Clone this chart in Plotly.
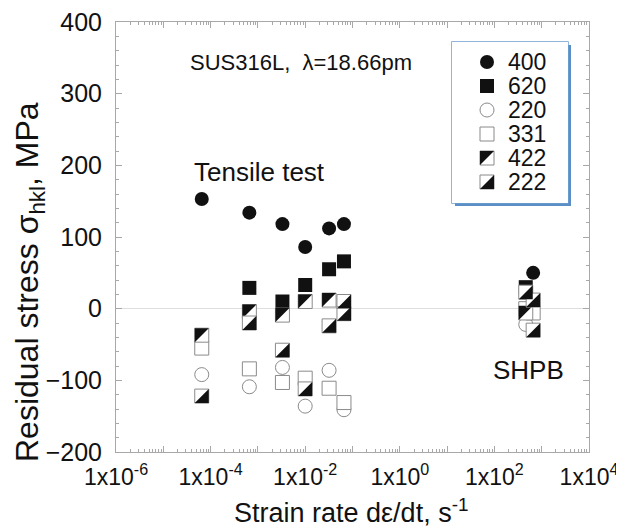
import plotly.graph_objects as go

# ---------------- data ----------------
s400_x = [6.5e-5, 6.6e-4, 3.3e-3, 1.0e-2, 3.2e-2, 6.6e-2, 6.6e2]
s400_y = [153, 134, 118, 86, 112, 118, 50]

s620_x = [6.6e-4, 3.3e-3, 1.0e-2, 3.2e-2, 6.6e-2, 4.6e2]
s620_y = [29, 10, 33, 55, 66, 30]

s220_x = [6.5e-5, 6.6e-4, 3.3e-3, 1.0e-2, 3.2e-2, 6.6e-2, 4.6e2]
s220_y = [-92, -109, -82, -136, -86, -141, -22]

s331_x = [6.5e-5, 6.6e-4, 3.3e-3, 1.0e-2, 3.2e-2, 6.6e-2, 4.6e2, 6.6e2]
s331_y = [-55, -84, -103, -97, -111, -131, 0, -6]

s422_x = [6.5e-5, 6.6e-4, 3.3e-3, 1.0e-2, 3.2e-2, 4.6e2]
s422_y = [-37, -4, -9, 10, 12, -6]

s222_x = [6.5e-5, 6.6e-4, 3.3e-3, 1.0e-2, 3.2e-2, 6.6e-2, 6.6e-2, 4.6e2, 6.6e2, 6.6e2]
s222_y = [-122, -20, -58, -112, -24, 10, -7, 23, 12, -30]

legend_labels = ["400", "620", "220", "331", "422", "222"]
x_tick_exponents = [-6, -5, -4, -3, -2, -1, 0, 1, 2, 3, 4]
y_range = [-200, 400]
x_range_exp = [-6, 4]

# ---------------- layout geometry ----------------
# the page body has an 8px margin, so the figure starts at (8, 8) of the window
BODY = 8
W, H = 624 - BODY, 531 - BODY
X0, Y0 = 116, 22          # plot-area top-left in window pixels
PW, PH = 473, 430         # plot-area size
ML, MT = X0 - BODY, Y0 - BODY
MR, MB = W - ML - PW, H - MT - PH
px_per_dec = PW / (x_range_exp[1] - x_range_exp[0])
px_per_unit = PH / (y_range[1] - y_range[0])


def px_x(px):
    return (px - X0) / PW


def px_y(py):
    return (Y0 + PH - py) / PH


S = 14                    # marker size (px)
TRI = S / 0.9             # plotly right-triangle size whose legs equal S
OFF = S / 6.0             # centroid offset of half-square triangle (px)

BLACK = "#111111"
GREY = "#8a8a8a"
FONT = "Liberation Sans, Arial, sans-serif"

fig = go.Figure()


def solid(xs, ys, symbol):
    return go.Scatter(x=xs, y=ys, mode="markers", hoverinfo="skip",
                      marker=dict(symbol=symbol, size=S, color=BLACK,
                                  line=dict(width=0)))


def hollow(xs, ys, symbol):
    return go.Scatter(x=xs, y=ys, mode="markers", hoverinfo="skip",
                      marker=dict(symbol=symbol, size=S, color="white",
                                  line=dict(width=1, color=GREY)))


def half(xs, ys, corner, xa="x", ya="y", linear=False):
    sq = go.Scatter(x=xs, y=ys, mode="markers", hoverinfo="skip", xaxis=xa, yaxis=ya,
                    marker=dict(symbol="square", size=S, color="white",
                                line=dict(width=1, color=GREY)))
    sgn = -1 if corner == "nw" else 1
    if linear:
        tx = [v + sgn * OFF for v in xs]
        ty = [v - sgn * OFF for v in ys]
    else:
        tx = [v * 10 ** (sgn * OFF / px_per_dec) for v in xs]
        ty = [v - sgn * OFF / px_per_unit for v in ys]
    tr = go.Scatter(x=tx, y=ty, mode="markers", hoverinfo="skip", xaxis=xa, yaxis=ya,
                    marker=dict(symbol="triangle-" + corner, size=TRI, color=BLACK,
                                line=dict(width=0)))
    return [sq, tr]


fig.add_trace(solid(s400_x, s400_y, "circle"))
fig.add_trace(solid(s620_x, s620_y, "square"))
fig.add_trace(hollow(s220_x, s220_y, "circle"))
fig.add_trace(hollow(s331_x, s331_y, "square"))
for t in half(s422_x, s422_y, "nw"):
    fig.add_trace(t)
for t in half(s222_x, s222_y, "se"):
    fig.add_trace(t)

# ---------------- custom legend (separate pixel-unit axes) ----------------
LX0, LX1, LY0, LY1 = 452, 568, 42, 203  # window px of the box
lw, lh = LX1 - LX0, LY1 - LY0
lx_dom = [px_x(LX0), px_x(LX1)]
ly_dom = [px_y(LY1), px_y(LY0)]
row_off = [20, 44, 68, 92, 116, 140]
rows_y = [lh - r for r in row_off]
mx = 35

fig.add_trace(go.Scatter(x=[mx], y=[rows_y[0]], mode="markers", xaxis="x2", yaxis="y2",
                         hoverinfo="skip", marker=dict(symbol="circle", size=S, color=BLACK)))
fig.add_trace(go.Scatter(x=[mx], y=[rows_y[1]], mode="markers", xaxis="x2", yaxis="y2",
                         hoverinfo="skip", marker=dict(symbol="square", size=S, color=BLACK)))
fig.add_trace(go.Scatter(x=[mx], y=[rows_y[2]], mode="markers", xaxis="x2", yaxis="y2",
                         hoverinfo="skip", marker=dict(symbol="circle", size=S, color="white",
                                                       line=dict(width=1, color=GREY))))
fig.add_trace(go.Scatter(x=[mx], y=[rows_y[3]], mode="markers", xaxis="x2", yaxis="y2",
                         hoverinfo="skip", marker=dict(symbol="square", size=S, color="white",
                                                       line=dict(width=1, color=GREY))))
for t in half([mx], [rows_y[4]], "nw", "x2", "y2", linear=True):
    fig.add_trace(t)
for t in half([mx], [rows_y[5]], "se", "x2", "y2", linear=True):
    fig.add_trace(t)
for lab, yy in zip(legend_labels, rows_y):
    fig.add_annotation(x=55, y=yy, xref="x2", yref="y2", text=lab, showarrow=False,
                       xanchor="left", yanchor="middle", borderpad=0,
                       font=dict(family=FONT, size=23, color=BLACK))

# legend frame with shadow
fig.add_shape(type="rect", xref="paper", yref="paper", layer="below",
              x0=lx_dom[0] + 3 / PW, x1=lx_dom[1] + 3 / PW,
              y0=ly_dom[0] - 3 / PH, y1=ly_dom[1] - 3 / PH,
              fillcolor="#5b8ec4", line=dict(width=0))
fig.add_shape(type="rect", xref="paper", yref="paper", layer="below",
              x0=lx_dom[0], x1=lx_dom[1], y0=ly_dom[0], y1=ly_dom[1],
              fillcolor="white", line=dict(width=1.5, color="#6f9fd0"))

# ---------------- text annotations ----------------
fig.add_annotation(x=px_x(188), y=px_y(62), xref="paper", yref="paper",
                   text="SUS316L,  λ=18.66pm", showarrow=False, xanchor="left",
                   yanchor="middle", font=dict(family=FONT, size=22, color=BLACK))
fig.add_annotation(x=px_x(259), y=px_y(172), xref="paper", yref="paper",
                   text="Tensile test", showarrow=False, xanchor="center",
                   yanchor="middle", font=dict(family=FONT, size=26, color=BLACK))
fig.add_annotation(x=px_x(528), y=px_y(370), xref="paper", yref="paper",
                   text="SHPB", showarrow=False, xanchor="center",
                   yanchor="middle", font=dict(family=FONT, size=26, color=BLACK))
# axis titles
fig.add_annotation(x=px_x(351), y=px_y(511), xref="paper", yref="paper",
                   text="Strain rate dε/dt, s<sup>-1</sup>", showarrow=False,
                   xanchor="center", yanchor="middle",
                   font=dict(family=FONT, size=27, color=BLACK))
fig.add_annotation(x=px_x(29), y=px_y(282), xref="paper", yref="paper",
                   text="Residual stress σ<sub>hkl</sub>, MPa", showarrow=False,
                   textangle=-90, xanchor="center", yanchor="middle",
                   font=dict(family=FONT, size=32, color=BLACK))

# ---------------- axes ----------------
tickvals = [10.0 ** e for e in x_tick_exponents]
ticktext = ["1x10<sup>%d</sup>" % e if e % 2 == 0 else "" for e in x_tick_exponents]
minor_vals = [m * 10.0 ** e for e in x_tick_exponents[:-1] for m in range(2, 10)]
AX = "#a8a8a8"

fig.update_layout(
    width=W, height=H, autosize=False,
    margin=dict(l=ML, r=MR, t=MT, b=MB, autoexpand=False),
    paper_bgcolor="white", plot_bgcolor="white",
    showlegend=False,
    font=dict(family=FONT, size=20, color=BLACK),
    xaxis=dict(type="log", range=x_range_exp, showgrid=False, zeroline=False,
               showline=True, linecolor=AX, linewidth=1, mirror="ticks",
               ticks="inside", ticklen=6, tickcolor=AX, tickwidth=1,
               tickmode="array", tickvals=tickvals, ticktext=ticktext,
               ticklabeloverflow="allow", ticklabelstandoff=4,
               tickfont=dict(family=FONT, size=23, color=BLACK),
               minor=dict(tickmode="array", tickvals=minor_vals, ticks="inside",
                          ticklen=3, tickcolor=AX, tickwidth=1, showgrid=False)),
    yaxis=dict(range=y_range, showgrid=False, zeroline=True, zerolinecolor="#dedede",
               zerolinewidth=1, showline=True, linecolor=AX, linewidth=1, mirror="ticks",
               ticks="inside", ticklen=6, tickcolor=AX, tickwidth=1,
               tickmode="linear", tick0=-200, dtick=100, ticklabelstandoff=8,
               ticklabeloverflow="allow",
               tickfont=dict(family=FONT, size=25, color=BLACK),
               minor=dict(dtick=20, ticks="inside", ticklen=3, tickcolor=AX,
                          tickwidth=1, showgrid=False)),
    xaxis2=dict(domain=lx_dom, range=[0, lw], visible=False, anchor="y2", fixedrange=True),
    yaxis2=dict(domain=ly_dom, range=[0, lh], visible=False, anchor="x2", fixedrange=True),
)

fig.write_html("out.html")
